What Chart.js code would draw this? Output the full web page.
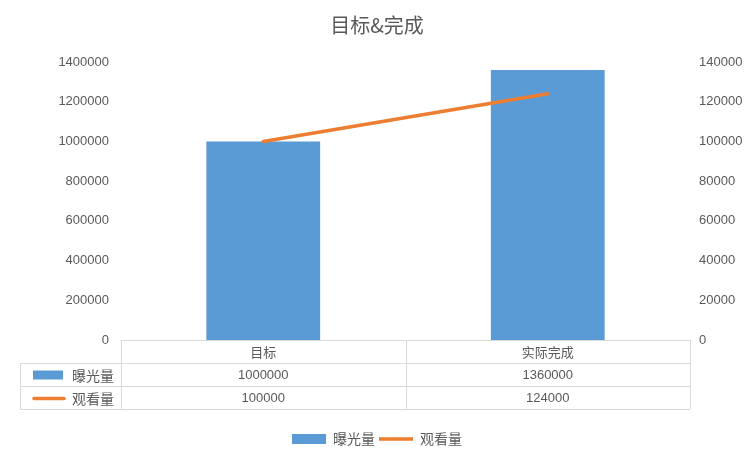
<!DOCTYPE html>
<html>
<head>
<meta charset="utf-8">
<script src="https://cdn.jsdelivr.net/npm/chart.js@4"></script>
<style>
  body { margin: 0; background: #fff; }
  #wrap { width: 754px; height: 456px; position: relative; }
</style>
</head>
<body>
<div id="wrap"><canvas id="chart"></canvas></div>
<script>
const categories = ['目标', '实际完成'];
const exposure = [1000000, 1360000];
const views = [100000, 124000];
const seriesNames = ['曝光量', '观看量'];
const leftTicks = [0, 200000, 400000, 600000, 800000, 1000000, 1200000, 1400000];
const rightTicks = [0, 20000, 40000, 60000, 80000, 100000, 120000, 140000];

const grey = '#595959';
const blue = '#5B9BD5';
const orange = '#ED7D31';
const lineGrey = '#D9D9D9';
const cjk = '"Noto Sans CJK SC", sans-serif';
const num = '"Liberation Sans", sans-serif';

// data table under the plot, like Excel's "show data table"
const dataTable = {
  id: 'dataTable',
  afterDraw(chart) {
    const ctx = chart.ctx;
    const area = chart.chartArea;
    const x = chart.scales.x;
    const top = area.bottom;
    const rowH = 23;
    const keyLeft = 20;
    const mid = (x.getPixelForValue(0) + x.getPixelForValue(1)) / 2;
    ctx.save();
    ctx.strokeStyle = lineGrey;
    ctx.lineWidth = 1;
    ctx.beginPath();
    ctx.moveTo(area.left, top + 0.5); ctx.lineTo(area.right, top + 0.5);
    for (let r = 1; r <= 3; r++) {
      const y = Math.round(top + r * rowH) + 0.5;
      ctx.moveTo(keyLeft, y); ctx.lineTo(area.right, y);
    }
    ctx.moveTo(Math.round(area.left) + 0.5, top); ctx.lineTo(Math.round(area.left) + 0.5, top + 3 * rowH);
    ctx.moveTo(Math.round(mid) + 0.5, top); ctx.lineTo(Math.round(mid) + 0.5, top + 3 * rowH);
    ctx.moveTo(Math.round(area.right) + 0.5, top); ctx.lineTo(Math.round(area.right) + 0.5, top + 3 * rowH);
    ctx.moveTo(keyLeft + 0.5, top + rowH); ctx.lineTo(keyLeft + 0.5, top + 3 * rowH);
    ctx.stroke();

    ctx.fillStyle = grey;
    ctx.textAlign = 'center';
    ctx.textBaseline = 'middle';
    ctx.font = '13px ' + cjk;
    categories.forEach((c, i) => ctx.fillText(c, x.getPixelForValue(i), top + rowH / 2 + 1));
    ctx.font = '13px ' + num;
    exposure.forEach((v, i) => ctx.fillText(String(v), x.getPixelForValue(i), top + rowH * 1.5 + 1));
    views.forEach((v, i) => ctx.fillText(String(v), x.getPixelForValue(i), top + rowH * 2.5 + 1));

    // series keys
    ctx.fillStyle = blue;
    ctx.fillRect(33, top + rowH * 1.5 - 4, 30, 9);
    ctx.strokeStyle = orange;
    ctx.lineWidth = 3.5;
    ctx.lineCap = 'round';
    ctx.beginPath();
    ctx.moveTo(34, top + rowH * 2.5 + 1);
    ctx.lineTo(64, top + rowH * 2.5 + 1);
    ctx.stroke();
    ctx.fillStyle = grey;
    ctx.textAlign = 'left';
    ctx.font = '14px ' + cjk;
    ctx.fillText(seriesNames[0], 72, top + rowH * 1.5 + 1);
    ctx.fillText(seriesNames[1], 72, top + rowH * 2.5 + 1);
    ctx.restore();
  }
};

new Chart(document.getElementById('chart'), {
  type: 'bar',
  data: {
    labels: categories,
    datasets: [
      {
        label: seriesNames[0],
        data: exposure,
        backgroundColor: blue,
        borderWidth: 0,
        yAxisID: 'y',
        order: 1,
        pointStyle: 'rect',
        barPercentage: 0.4,
        categoryPercentage: 1
      },
      {
        type: 'line',
        label: seriesNames[1],
        data: views,
        borderColor: orange,
        backgroundColor: orange,
        borderWidth: 3.5,
        pointRadius: 0,
        borderCapStyle: 'round',
        yAxisID: 'y1',
        order: 0,
        pointStyle: 'line'
      }
    ]
  },
  options: {
    responsive: true,
    maintainAspectRatio: false,
    animation: false,
    layout: { padding: { left: 0, right: 0, top: 2, bottom: 0 } },
    plugins: {
      title: {
        display: true,
        text: '目标&完成',
        color: grey,
        font: { family: cjk, size: 20, weight: 'normal' },
        padding: { top: 11, bottom: 25 }
      },
      legend: {
        position: 'bottom',
        labels: {
          color: grey,
          font: { family: cjk, size: 14 },
          usePointStyle: true,
          pointStyleWidth: 34,
          boxHeight: 10,
          padding: 4,
          sort: (a, b) => a.datasetIndex - b.datasetIndex
        }
      },
      tooltip: { enabled: false }
    },
    scales: {
      x: {
        grid: { display: false },
        border: { display: false },
        ticks: { display: false },
        afterFit: s => { s.height = 88; }
      },
      y: {
        position: 'left',
        min: 0,
        max: 1400000,
        afterBuildTicks: s => { s.ticks = leftTicks.map(v => ({ value: v })); },
        grid: { display: false, drawTicks: false },
        border: { display: false },
        ticks: { color: grey, font: { family: num, size: 13 }, padding: 12, callback: v => String(v) },
        afterFit: s => { s.width = 121; }
      },
      y1: {
        position: 'right',
        min: 0,
        max: 140000,
        afterBuildTicks: s => { s.ticks = rightTicks.map(v => ({ value: v })); },
        grid: { display: false, drawTicks: false },
        border: { display: false },
        ticks: { color: grey, font: { family: num, size: 13 }, padding: 9, callback: v => String(v) },
        afterFit: s => { s.width = 64; }
      }
    }
  },
  plugins: [dataTable]
});
</script>
</body>
</html>
